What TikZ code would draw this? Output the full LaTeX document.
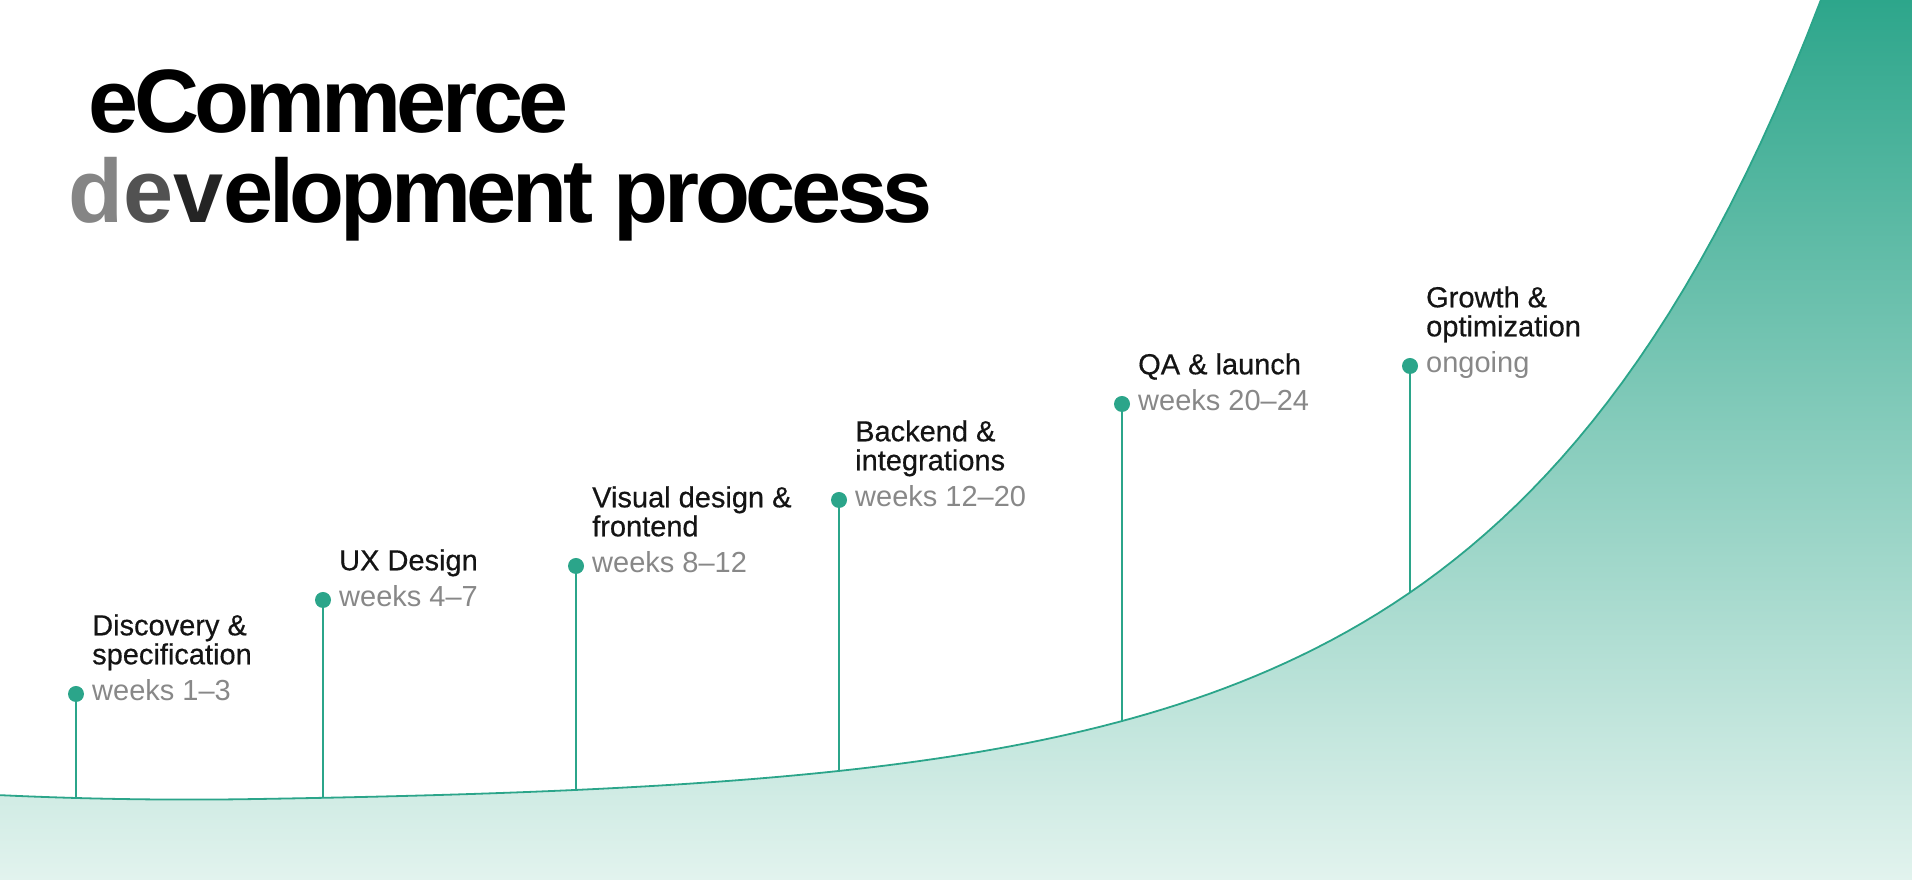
\documentclass[tikz,border=0pt]{standalone}
\usepackage{fontspec}
\setmainfont{Liberation Sans}
\newfontfamily\headfont{Liberation Sans}[LetterSpace=-4.8]
\newfontfamily\phasefont{Liberation Sans}[FakeBold=0.5]
\usetikzlibrary{positioning}

\definecolor{mintgreen}{RGB}{43,165,138}
\definecolor{mintpale}{RGB}{226,243,238}
\definecolor{labelgray}{RGB}{136,136,136}

\begin{document}
\begin{tikzpicture}[
    x=1pt, y=1pt,
    declare function={ridge(\x)=76+2.163*exp(0.003255*\x)+0.0001*max(0,250-\x)*max(0,250-\x);},
    head/.style={anchor=base west, inner sep=0,
        font=\headfont\bfseries\fontsize{90}{90}\selectfont},
    dot/.style={circle, fill=mintgreen, minimum size=16pt, inner sep=0},
    stem/.style={draw=mintgreen, line width=1.8pt},
    phase/.style={inner sep=0, align=left, text depth=7pt, text=black!92,
        font=\phasefont\fontsize{29}{29}\selectfont},
    weeks/.style={inner sep=0, text=labelgray,
        font=\fontsize{29}{29}\selectfont},
]
    \useasboundingbox (0,0) rectangle (1912,880);
    \clip (0,0) rectangle (1912,880);

    \fill[top color=mintgreen, bottom color=mintpale]
        plot[domain=0:1822, samples=120] (\x, {ridge(\x)})
        -- (1912,890) -- (1912,0) -- (0,0) -- cycle;
    \draw[stem] plot[domain=0:1822, samples=120] (\x, {ridge(\x)});

    \coordinate (b1) at (76,{ridge(76)});
    \coordinate (b2) at (323,{ridge(323)});
    \coordinate (b3) at (576,{ridge(576)});
    \coordinate (b4) at (839,{ridge(839)});
    \coordinate (b5) at (1122,{ridge(1122)});
    \coordinate (b6) at (1410,{ridge(1410)});

    \node[head] (title) at (88,747) {eCommerce};
    \node[head] (title2) at (68,657) {{\color{black!48}d}{\color{black!68}e}{\color{black!86}v}elopment process};

    \node[dot] (d1) at (76,186) {};
    \node[dot] (d2) at (323,280) {};
    \node[dot] (d3) at (576,314) {};
    \node[dot] (d4) at (839,380) {};
    \node[dot] (d5) at (1122,476) {};
    \node[dot] (d6) at (1410,514) {};

    \draw[stem] (d1) -- (b1);
    \draw[stem] (d2) -- (b2);
    \draw[stem] (d3) -- (b3);
    \draw[stem] (d4) -- (b4);
    \draw[stem] (d5) -- (b5);
    \draw[stem] (d6) -- (b6);

    \node[phase, above right=22.5pt and 16pt of d1.center] (p1) {Discovery \&\\specification};
    \node[weeks, right=16pt of d1.center, anchor=base west, yshift=-7pt] (w1) {weeks 1–3};
    \node[phase, above right=22.5pt and 16pt of d2.center] (p2) {UX Design};
    \node[weeks, right=16pt of d2.center, anchor=base west, yshift=-7pt] (w2) {weeks 4–7};
    \node[phase, above right=22.5pt and 16pt of d3.center] (p3) {Visual design \&\\frontend};
    \node[weeks, right=16pt of d3.center, anchor=base west, yshift=-7pt] (w3) {weeks 8–12};
    \node[phase, above right=22.5pt and 16pt of d4.center] (p4) {Backend \&\\integrations};
    \node[weeks, right=16pt of d4.center, anchor=base west, yshift=-7pt] (w4) {weeks 12–20};
    \node[phase, above right=22.5pt and 16pt of d5.center] (p5) {QA \& launch};
    \node[weeks, right=16pt of d5.center, anchor=base west, yshift=-7pt] (w5) {weeks 20–24};
    \node[phase, above right=22.5pt and 16pt of d6.center] (p6) {Growth \&\\optimization};
    \node[weeks, right=16pt of d6.center, anchor=base west, yshift=-7pt] (w6) {ongoing};
\end{tikzpicture}
\end{document}
